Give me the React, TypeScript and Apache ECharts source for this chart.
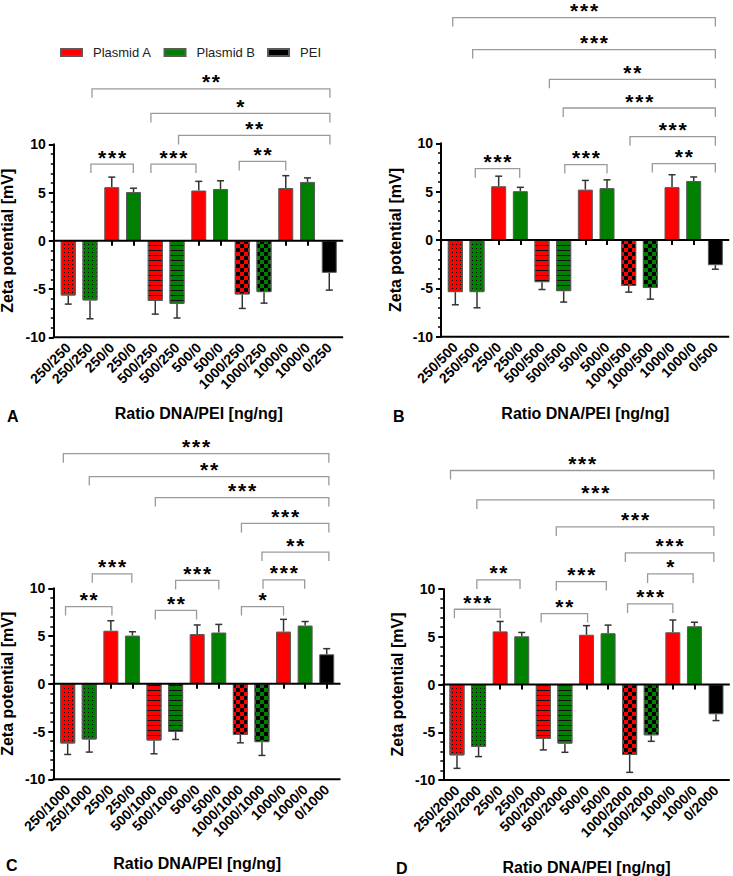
import React, { useEffect, useRef } from 'react';
import * as echarts from 'echarts';

// ---------- data ----------
const categoriesA = ['250/250', '250/250', '250/0', '250/0', '500/250', '500/250', '500/0', '500/0', '1000/250', '1000/250', '1000/0', '1000/0', '0/250'];
const categoriesB = ['250/500', '250/500', '250/0', '250/0', '500/500', '500/500', '500/0', '500/0', '1000/500', '1000/500', '1000/0', '1000/0', '0/500'];
const categoriesC = ['250/1000', '250/1000', '250/0', '250/0', '500/1000', '500/1000', '500/0', '500/0', '1000/1000', '1000/1000', '1000/0', '1000/0', '0/1000'];
const categoriesD = ['250/2000', '250/2000', '250/0', '250/0', '500/2000', '500/2000', '500/0', '500/0', '1000/2000', '1000/2000', '1000/0', '1000/0', '0/2000'];

// which legend group each category belongs to
const groups = ['Plasmid A', 'Plasmid B', 'Plasmid A', 'Plasmid B', 'Plasmid A', 'Plasmid B', 'Plasmid A', 'Plasmid B', 'Plasmid A', 'Plasmid B', 'Plasmid A', 'Plasmid B', 'PEI'];
const patterns = ['dots', 'dots', '', '', 'stripes', 'stripes', '', '', 'checker', 'checker', '', '', ''];

const valuesA = [-5.67, -6.18, 5.56, 5.05, -6.22, -6.53, 5.21, 5.37, -5.56, -5.32, 5.47, 6.1, -3.32];
const errorsA = [0.89, 1.9, 1.04, 0.4, 1.38, 1.47, 0.95, 0.85, 1.45, 1.14, 1.28, 0.42, 1.79];
const valuesB = [-5.39, -5.39, 5.56, 5.05, -4.36, -5.29, 5.21, 5.37, -4.74, -4.95, 5.47, 6.1, -2.61];
const errorsB = [1.31, 1.62, 1.04, 0.4, 0.76, 1.13, 0.95, 0.85, 0.65, 1.17, 1.28, 0.42, 0.41];
const valuesC = [-6.25, -5.83, 5.56, 5.05, -5.94, -5.03, 5.21, 5.37, -5.35, -6.11, 5.47, 6.1, 3.09];
const errorsC = [1.15, 1.32, 1.04, 0.4, 1.39, 0.8, 0.95, 0.85, 0.83, 1.39, 1.28, 0.42, 0.59];
const valuesD = [-7.42, -6.53, 5.56, 5.05, -5.7, -6.19, 5.21, 5.37, -7.38, -5.32, 5.47, 6.1, -3.12];
const errorsD = [1.36, 1.02, 1.04, 0.4, 1.15, 0.91, 0.95, 0.85, 1.82, 0.63, 1.28, 0.42, 0.66];

// significance brackets: [from category, to category, level (mV), stars]
const bracketsA: [number, number, number, string][] = [
  [1.04, 2.99, 7.95, '***'], [3.8, 5.87, 7.95, '***'], [7.86, 10.0, 8.23, '**'],
  [1.09, 12.03, 15.75, '**'], [3.8, 12.03, 13.2, '*'], [5.07, 12.03, 10.92, '**'],
];
const bracketsB: [number, number, number, string][] = [
  [0.92, 2.97, 7.38, '***'], [5.05, 7.0, 7.8, '***'], [9.09, 12, 7.9, '**'], [8.06, 12, 10.69, '***'],
  [4.98, 12, 13.65, '***'], [4.34, 12, 16.62, '**'], [0.8, 12, 19.69, '***'], [-0.12, 12, 23.0, '***'],
];
const bracketsC: [number, number, number, string][] = [
  [-0.1, 2.05, 8.09, '**'], [1.14, 2.97, 11.52, '***'], [4.06, 5.97, 7.68, '**'], [5.0, 7.0, 10.82, '***'],
  [8.05, 10.0, 8.09, '*'], [9.05, 10.98, 10.89, '***'], [9.0, 12.1, 13.79, '**'], [8.05, 12.1, 16.79, '***'],
  [4.06, 12.1, 19.5, '***'], [1.0, 12.1, 21.7, '**'], [-0.2, 12.1, 24.1, '***'],
];
const bracketsD: [number, number, number, string][] = [
  [-0.12, 2.0, 7.88, '***'], [0.92, 2.92, 10.95, '**'], [3.9, 6.05, 7.43, '**'], [4.6, 6.92, 10.78, '***'],
  [7.9, 10.0, 8.44, '***'], [8.83, 10.94, 11.58, '*'], [7.8, 11.9, 13.78, '***'], [4.6, 11.9, 16.5, '***'],
  [0.92, 11.9, 19.33, '***'], [-0.3, 11.9, 22.41, '***'],
];

const legendNames = ['Plasmid A', 'Plasmid B', 'PEI'];
const yTicksMin = -10;
const yTicksMax = 10;

// ---------- styles ----------
const FONT = '"Liberation Sans", Arial, Helvetica, sans-serif';
const COLORS: Record<string, string> = { 'Plasmid A': '#ff0000', 'Plasmid B': '#008000', PEI: '#000000' };
const DECALS: Record<string, any> = {
  dots: { symbol: 'rect', symbolSize: 1, dashArrayX: [1, 3], dashArrayY: [1, 3], color: '#000' },
  stripes: { symbol: 'rect', symbolSize: 1, dashArrayX: [1, 0], dashArrayY: [1, 4], color: '#111' },
  checker: { symbol: 'rect', symbolSize: 1, dashArrayX: [[4, 4], [0, 4, 4, 0]], dashArrayY: [4, 0], color: '#000' },
};

const panels = [
  { cats: categoriesA, vals: valuesA, errs: errorsA, brackets: bracketsA, grid: { left: 57.4, top: 144.3, width: 282.75, height: 193 }, yOffset: 3.6, xNameGap: 67.7, letter: 'A', lx: 7, ly: 416.5 },
  { cats: categoriesB, vals: valuesB, errs: errorsB, brackets: bracketsB, grid: { left: 444.5, top: 143.3, width: 281.7, height: 193.4 }, yOffset: 3.5, xNameGap: 68.6, letter: 'B', lx: 393, ly: 416 },
  { cats: categoriesC, vals: valuesC, errs: errorsC, brackets: bracketsC, grid: { left: 56.9, top: 588.3, width: 280.6, height: 191 }, yOffset: 3.6, xNameGap: 75.7, letter: 'C', lx: 6, ly: 865 },
  { cats: categoriesD, vals: valuesD, errs: errorsD, brackets: bracketsD, grid: { left: 446.2, top: 589, width: 280.6, height: 191 }, yOffset: 2.9, xNameGap: 79.6, letter: 'D', lx: 396, ly: 868 },
];

function buildOption() {
  const grid: any[] = [];
  const xAxis: any[] = [];
  const yAxis: any[] = [];
  const series: any[] = [];
  const graphic: any[] = [];

  panels.forEach((p, pi) => {
    grid.push({ ...p.grid, containLabel: false, outerBoundsMode: 'none' });
    xAxis.push({
      type: 'category', gridIndex: pi, data: p.cats,
      axisLine: { show: false },
      axisTick: { show: true, alignWithLabel: true, interval: 0, length: 5, lineStyle: { color: '#000', width: 2 } },
      axisLabel: { interval: 0, rotate: 45, fontSize: 14, fontWeight: 'bold', color: '#000', margin: 8, fontFamily: FONT },
      splitLine: { show: false },
      name: 'Ratio DNA/PEI [ng/ng]', nameLocation: 'middle', nameGap: p.xNameGap,
      nameTextStyle: { fontSize: 16, fontWeight: 'bold', color: '#000', fontFamily: FONT },
    });
    yAxis.push({
      type: 'value', gridIndex: pi, min: yTicksMin, max: yTicksMax, interval: 5, offset: p.yOffset,
      axisLine: { show: true, lineStyle: { color: '#000', width: 2 } },
      axisTick: { show: true, length: 5, lineStyle: { color: '#000', width: 2 } },
      minorTick: { show: true, splitNumber: 5, length: 3, lineStyle: { color: '#000', width: 1.5 } },
      axisLabel: { fontSize: 14, fontWeight: 'bold', color: '#000', margin: 8, fontFamily: FONT },
      splitLine: { show: false }, minorSplitLine: { show: false },
      name: 'Zeta potential [mV]', nameLocation: 'middle', nameGap: 38,
      nameTextStyle: { fontSize: 16, fontWeight: 'bold', color: '#000', fontFamily: FONT },
    });

    legendNames.forEach((name) => {
      series.push({
        type: 'bar', name, xAxisIndex: pi, yAxisIndex: pi, barWidth: 15, barGap: '-100%',
        itemStyle: { color: COLORS[name], borderColor: '#5a5a5a', borderWidth: 1 },
        z: 2,
        data: p.vals.map((v, i) => {
          if (groups[i] !== name) return '-';
          const pat = patterns[i];
          return pat ? { value: v, itemStyle: { decal: DECALS[pat] } } : v;
        }),
      });
    });

    // error bars
    series.push({
      type: 'custom', xAxisIndex: pi, yAxisIndex: pi, clip: false, silent: true, z: 1,
      data: p.vals.map((v, i) => [i, v, p.errs[i]]),
      renderItem: (params: any, api: any) => {
        const i = api.value(0), v = api.value(1), e = api.value(2);
        const end = v >= 0 ? v + e : v - e;
        const a = api.coord([i, v]);
        const b = api.coord([i, end]);
        const hw = 3.5;
        const st = { stroke: '#333', lineWidth: 1.5 };
        return {
          type: 'group', children: [
            { type: 'line', shape: { x1: a[0], y1: a[1], x2: b[0], y2: b[1] }, style: st },
            { type: 'line', shape: { x1: b[0] - hw, y1: b[1], x2: b[0] + hw, y2: b[1] }, style: st },
          ],
        };
      },
    });

    // axis lines (zero line and bottom line, extended to meet the y axis)
    const off = p.yOffset;
    series.push({
      type: 'custom', xAxisIndex: pi, yAxisIndex: pi, clip: false, silent: true, z: 5,
      data: [[0, 0]],
      renderItem: (params: any, api: any) => {
        const cs = params.coordSys;
        const yz = api.coord([0, 0])[1];
        const yb = api.coord([0, yTicksMin])[1];
        const xl = cs.x - off - 1, xr = cs.x + cs.width + 3;
        const st = { stroke: '#000', lineWidth: 2 };
        return {
          type: 'group', children: [
            { type: 'line', shape: { x1: xl, y1: yz, x2: xr, y2: yz }, style: st },
            { type: 'line', shape: { x1: xl, y1: yb, x2: xr, y2: yb }, style: st },
          ],
        };
      },
    });

    // significance brackets
    const br = p.brackets;
    series.push({
      type: 'custom', xAxisIndex: pi, yAxisIndex: pi, clip: false, silent: true, z: 4,
      data: br.map((b) => [0, b[2]]),
      renderItem: (params: any, api: any) => {
        const b = br[params.dataIndex];
        const x0 = api.coord([0, 0])[0];
        const bw = api.size([1, 0])[0];
        const xa = x0 + b[0] * bw, xb = x0 + b[1] * bw;
        const y = api.coord([0, b[2]])[1];
        return {
          type: 'group', children: [
            { type: 'polyline', shape: { points: [[xa, y + 9], [xa, y], [xb, y], [xb, y + 9]] }, style: { stroke: '#9a9a9a', lineWidth: 1.3, fill: null } },
            { type: 'text', x: (xa + xb) / 2, y: y - 7, style: { text: b[3].split('').join('\u200A'), font: `bold 21px ${FONT}`, fill: '#000', align: 'center', verticalAlign: 'middle' } },
          ],
        };
      },
    });

    graphic.push({ type: 'text', x: p.lx, y: p.ly, style: { text: p.letter, font: `bold 16px ${FONT}`, fill: '#000', verticalAlign: 'middle' } });
  });

  return {
    animation: false,
    textStyle: { fontFamily: FONT },
    grid, xAxis, yAxis, series, graphic,
    legend: {
      show: true, data: legendNames, left: 60, top: 46, padding: 0, icon: 'rect',
      itemWidth: 21, itemHeight: 7, itemGap: 12,
      textStyle: { fontSize: 13, color: '#222', fontFamily: FONT, padding: [0, 0, 0, 6] },
      selectedMode: false,
    },
  };
}

export default function App() {
  const ref = useRef<HTMLDivElement>(null);
  useEffect(() => {
    if (!ref.current) return;
    const chart = echarts.init(ref.current, null, { renderer: 'svg' });
    chart.setOption(buildOption() as any);
    return () => chart.dispose();
  }, []);
  return <div ref={ref} style={{ position: 'absolute', left: 0, top: 0, width: 733, height: 876, background: '#fff' }} />;
}
